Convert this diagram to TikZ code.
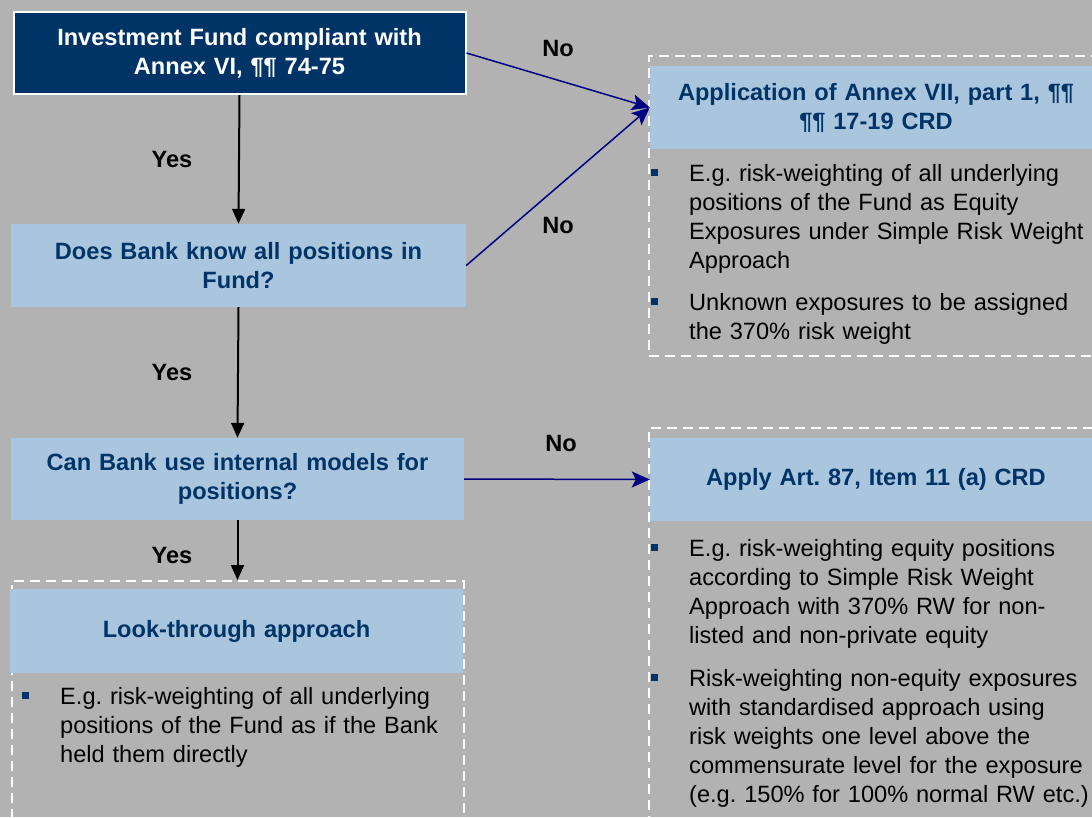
\documentclass[tikz,border=0pt]{standalone}
\usepackage{fontspec}
\setmainfont{Liberation Sans}
\usepackage{tikz}
\usetikzlibrary{positioning}
\usetikzlibrary{arrows.meta}

\definecolor{bggray}{HTML}{B2B2B2}
\definecolor{paleblue}{HTML}{A9C6DE}
\definecolor{navybox}{HTML}{003366}
\definecolor{arrownavy}{HTML}{000080}

\frenchspacing
\newcommand{\bul}{\hangindent=38pt\hangafter=1\noindent\makebox[38pt][l]{\textcolor{navybox}{\rule[5pt]{7pt}{7pt}}}}
\newcommand{\boxfont}{\fontsize{23.6}{29}\selectfont}

\begin{document}
\begin{tikzpicture}
      [x=1pt,y=-1pt,
       every node/.style={font=\boxfont, inner sep=0pt},
       darkbox/.style={fill=navybox, draw=white, line width=2pt, text=white,
                       font=\boxfont\bfseries, align=center, text width=440pt},
       bluebox/.style={fill=paleblue, text=navybox, text width=440pt,
                       font=\boxfont\bfseries, align=center},
       dashframe/.style={draw=white, line width=2pt, dash pattern=on 10pt off 6pt},
       bullets/.style={anchor=north west, align=left, text=black},
       lbl/.style={font=\boxfont\bfseries, text=black},
       yesarrow/.style={-{Triangle[length=15pt,width=13pt]}, line width=2pt, black},
       noarrow/.style={-{Stealth[length=18pt,width=16pt,inset=4pt]}, line width=1.5pt, arrownavy}]
    \useasboundingbox (0,0) rectangle (1092,817);
    \clip (0,0) rectangle (1092,817);
    \fill[bggray] (0,0) rectangle (1092,817);

    % dashed frames
    \node[dashframe, minimum width=452pt, minimum height=260pt, anchor=north west] (lookframe) at (11,580) {};
    \node[dashframe, minimum width=460pt, minimum height=300pt, anchor=north west] (annexframe) at (648,55) {};
    \node[dashframe, minimum width=460pt, minimum height=420pt, anchor=north west] (artframe) at (648,427) {};

    % questions
    \node[darkbox, minimum width=452pt, minimum height=82pt] (fund) at (239.5,53)
        {Investment Fund compliant with\\ Annex VI, ¶¶ 74-75};
    \node[bluebox, minimum width=455pt, minimum height=83pt] (know) at (238.5,265.5)
        {Does Bank know all positions in\\ Fund?};
    \node[bluebox, minimum width=453pt, minimum height=82pt] (models) at (237.5,479)
        {Can Bank use internal models for\\ positions?};

    % outcomes
    \node[bluebox, minimum width=453pt, minimum height=84pt] (look) at (236.5,631) {Look-through approach};
    \node[bluebox, minimum width=452pt, minimum height=83pt] (annex) at (876,107.5)
        {Application of Annex VII, part 1, ¶¶\\ ¶¶ 17-19 CRD};
    \node[bluebox, minimum width=452pt, minimum height=83pt] (art) at (876,479.5)
        {Apply Art. 87, Item 11 (a) CRD};

    \node[bullets, text width=428pt] (looktext) at (22,687)
        {\bul E.g. risk-weighting of all underlying\newline positions of the Fund as if the Bank\newline held them directly\par};
    \node[bullets, text width=463pt] (annextext) at (651,164)
        {\bul E.g. risk-weighting of all underlying\newline positions of the Fund as Equity\newline
         Exposures under Simple Risk Weight\newline Approach\par\vspace{13pt}
         \bul Unknown exposures to be assigned\newline the 370\% risk weight\par};
    \node[bullets, text width=463pt] (arttext) at (651,539)
        {\bul E.g. risk-weighting equity positions\newline according to Simple Risk Weight\newline
         Approach with 370\% RW for non-\newline listed and non-private equity\par\vspace{14pt}
         \bul Risk-weighting non-equity exposures\newline with standardised approach using\newline
         risk weights one level above the\newline commensurate level for the exposure\newline
         (e.g. 150\% for 100\% normal RW etc.)\par};

    % connectors
    \draw[yesarrow] (fund.south) -- node[lbl, xshift=-67pt] (yes1) {Yes} (know.north);
    \draw[yesarrow] (know.south) -- node[lbl, xshift=-66pt] (yes2) {Yes} (models.north);
    \draw[yesarrow] (models.south) -- node[lbl, xshift=-65.5pt, yshift=-5.5pt] (yes3) {Yes}
        (models.south |- lookframe.north);
    \draw[noarrow] (fund.east) -- node[lbl, yshift=32pt] (no1) {No} (annex.west);
    \draw[noarrow] (know.east) -- node[lbl, yshift=-38.5pt] (no2) {No} (annex.west);
    \draw[noarrow] (models.east) -- node[lbl, xshift=4pt, yshift=36pt] (no3) {No} (art.west);
\end{tikzpicture}
\end{document}
